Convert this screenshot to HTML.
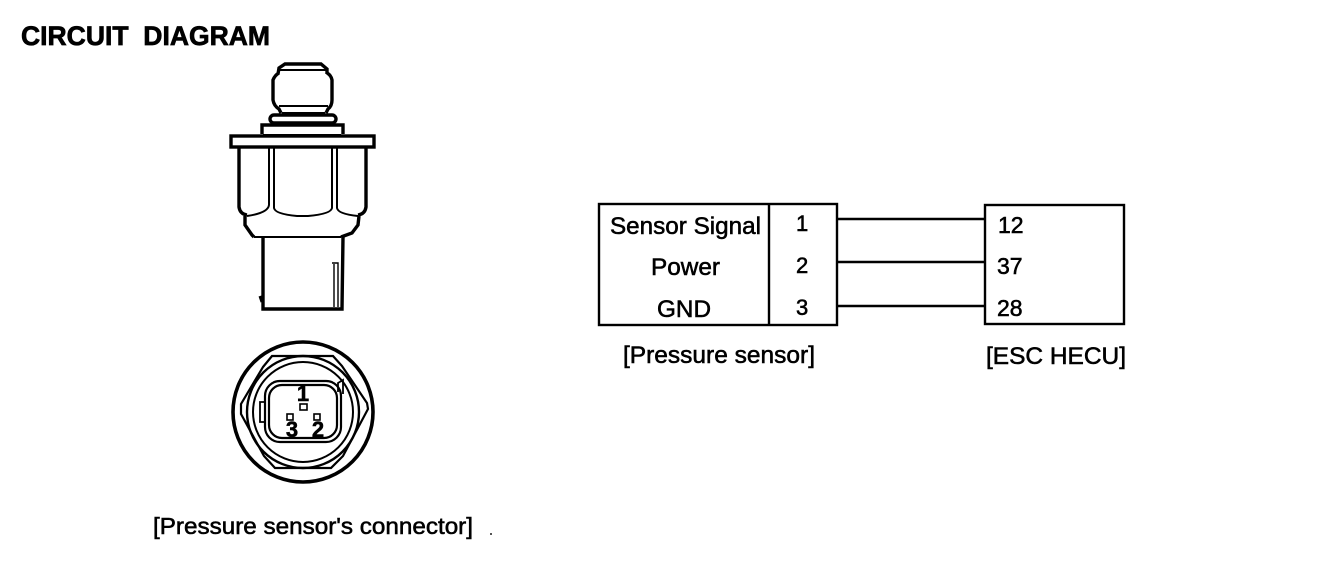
<!DOCTYPE html>
<html><head><meta charset="utf-8"><style>
html,body{margin:0;padding:0;background:#fff}
svg{display:block}
text{font-family:"Liberation Sans",sans-serif;fill:#000;stroke:#000;stroke-width:.55px}
</style></head><body>
<svg width="1328" height="580" viewBox="0 0 1328 580" xmlns="http://www.w3.org/2000/svg">
<rect width="1328" height="580" fill="#fff"/>
<text x="21" y="45" font-size="27" font-weight="700" textLength="249" lengthAdjust="spacingAndGlyphs" xml:space="preserve" style="stroke-width:.7px">CIRCUIT  DIAGRAM</text>

<g fill="none" stroke="#000" stroke-width="3.4">
<!-- cap -->
<path d="M278 74 L279 68 L285 64 L321 64 L327 69 L327 74"/>
<path d="M280 70 L326 70" stroke-width="2"/>
<path d="M279 73 Q275 75 273 80 L273 100 Q274 106 279 109 L281 113 M327 73 Q331 75 332 80 L332 100 Q332 106 328 109 L326 113"/>
<path d="M279 106 L328 106 M282 113 L325 113" stroke-width="2"/>
<rect x="270" y="115" width="66" height="8" rx="4"/>
<path d="M262 134 L262 125 L343 125 L343 134"/>
<rect x="231" y="136" width="143" height="11"/>
<path d="M263 135 L341 135" stroke-width="2"/>
<!-- hex body -->
<path d="M239 148 L239 207 Q240 214 247 215 M366 148 L366 207 Q365 214 358 215"/>
<path d="M269 148 L269 205 Q268 213 247 216 M274 148 L274 208 Q275 214 297 216 L308 216 Q331 214 332 208 L332 148 M337 148 L337 208 Q338 214 358 216" stroke-width="2"/>
<path d="M245 216 L245 225 L252 235 L254 237 M359 216 L358 225 L352 233 L341 237"/>
<path d="M254 237 L341 237" stroke-width="2"/>
<!-- lower -->
<path d="M263 237 L263 309 L342 309 L343 237"/>
<path d="M332 263 L338 263 L338 307 M334 264 L334 307" stroke-width="1.4"/>
<path d="M260 296 L262 302" stroke-width="3"/>
</g>

<!-- connector front -->
<g fill="none" stroke="#000">
<circle cx="303" cy="412" r="70" stroke-width="3.6"/>
<path d="M263 367 L272 356 L333 356 L342 366 L367 403 L368 409 L343 456 L331 468 L275 468 L264 456 L241 414 L241 404 Z" stroke-width="2.2"/>
<circle cx="303" cy="412" r="56" stroke-width="2.4"/>
<circle cx="303" cy="412" r="50" stroke-width="2"/>
<rect x="265" y="381" width="76" height="61" rx="15" stroke-width="2.2"/>
<rect x="269" y="385" width="68" height="53" rx="13" stroke-width="2.2"/>
<path d="M338 392 L338 383 L343 380 L343 394" stroke-width="1.8"/>
<path d="M265 402 L260 402 L260 422 L265 422" stroke-width="1.8"/>
<rect x="300" y="404" width="7" height="6" stroke-width="1.6"/>
<rect x="287" y="414" width="6" height="6" stroke-width="1.6"/>
<rect x="314" y="414" width="6" height="6" stroke-width="1.6"/>
</g>
<text x="303" y="401" font-size="22" font-weight="700" text-anchor="middle">1</text>
<text x="292" y="437" font-size="22" font-weight="700" text-anchor="middle">3</text>
<text x="318" y="437" font-size="22" font-weight="700" text-anchor="middle">2</text>

<text x="153" y="534" font-size="23" textLength="320" lengthAdjust="spacingAndGlyphs">[Pressure sensor's connector]</text>
<rect x="490" y="533" width="2" height="2" fill="#555"/>

<!-- circuit -->
<g fill="none" stroke="#000" stroke-width="2.4">
<rect x="599" y="204" width="238" height="121"/>
<path d="M769 204 L769 325"/>
<rect x="985" y="205" width="139" height="119"/>
<path d="M837 219 L985 219 M837 262 L985 262 M837 306 L985 306"/>
</g>
<g font-size="24">
<text x="610" y="234" textLength="151" lengthAdjust="spacingAndGlyphs">Sensor Signal</text>
<text x="651" y="275" textLength="69" lengthAdjust="spacingAndGlyphs">Power</text>
<text x="657" y="317" textLength="54" lengthAdjust="spacingAndGlyphs">GND</text>
<text x="796" y="231" font-size="22">1</text>
<text x="796" y="273" font-size="22">2</text>
<text x="796" y="315" font-size="22">3</text>
<text x="998" y="233" font-size="23">12</text>
<text x="997" y="274" font-size="23">37</text>
<text x="997" y="316" font-size="23">28</text>
<text x="623" y="363" textLength="192" lengthAdjust="spacingAndGlyphs">[Pressure sensor]</text>
<text x="986" y="364" textLength="140" lengthAdjust="spacingAndGlyphs">[ESC HECU]</text>
</g>
</svg>
</body></html>
